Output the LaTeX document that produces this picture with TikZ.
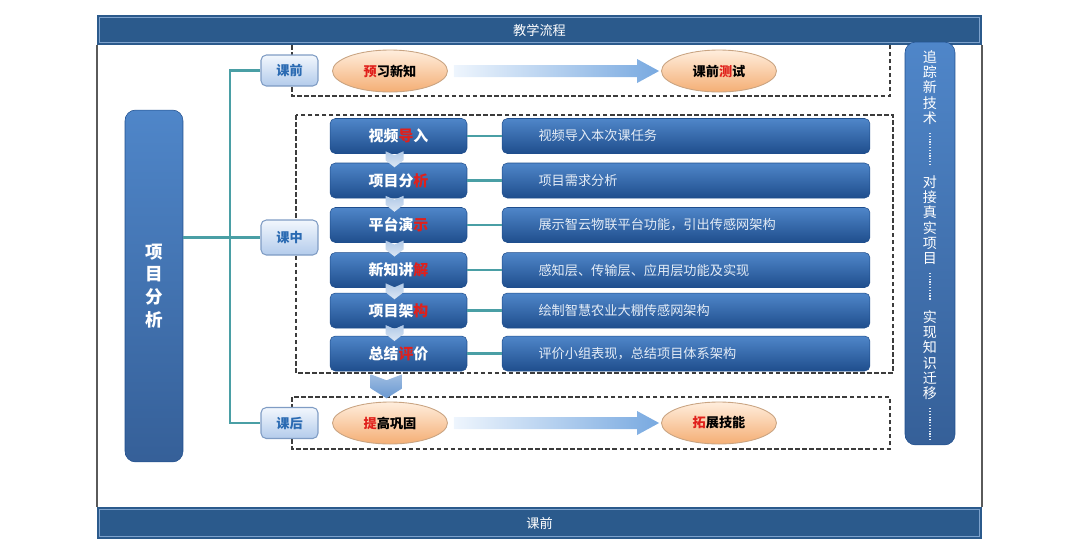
\documentclass[tikz,border=0pt]{standalone}
\usepackage{fontspec}
\setmainfont{Noto Sans CJK SC}
\usetikzlibrary{calc,shapes.geometric}

\definecolor{barblue}{HTML}{2B5A8C}
\definecolor{barline}{HTML}{7EA2CC}
\definecolor{boxtop}{HTML}{4F86C9}
\definecolor{boxbot}{HTML}{1F4E8D}
\definecolor{linkteal}{HTML}{4A9FA5}
\definecolor{tagtop}{HTML}{F2F7FD}
\definecolor{tagbot}{HTML}{B3CBEB}
\definecolor{tagborder}{HTML}{7F9CC4}
\definecolor{tagtext}{HTML}{2A6AB2}
\definecolor{ovaltop}{HTML}{FFEEDD}
\definecolor{ovalbot}{HTML}{F4AE74}
\definecolor{ovalborder}{HTML}{C9A482}
\definecolor{flowleft}{HTML}{EEF5FD}
\definecolor{flowright}{HTML}{78A9E0}
\definecolor{dashgray}{HTML}{3C3C3C}
\definecolor{framegray}{HTML}{5A5A5A}
\definecolor{keyred}{HTML}{E0201B}
\definecolor{desctext}{HTML}{E4ECF6}

\newcommand{\redch}[1]{\textcolor{keyred}{#1}}

\tikzset{
  bar/.style={rectangle, fill=barblue, text=white, minimum width=17.7cm, inner sep=0pt,
    font=\fontsize{7.5}{9}\selectfont},
  stepbox/.style={rectangle, rounded corners=3pt, top color=boxtop, bottom color=boxbot,
    draw=boxbot, line width=0.3pt, minimum width=2.74cm, minimum height=0.70cm,
    text=white, font=\bfseries\fontsize{8.5}{10}\selectfont},
  descbox/.style={rectangle, rounded corners=3pt, top color=boxtop, bottom color=boxbot,
    draw=boxbot, line width=0.3pt, minimum height=0.70cm, text width=5.9cm,
    inner xsep=0.73cm, align=left, text=desctext, font=\fontsize{7.5}{9}\selectfont},
  tagbox/.style={rectangle, rounded corners=3pt, top color=tagtop, bottom color=tagbot,
    draw=tagborder, line width=0.6pt, minimum width=1.14cm, minimum height=0.62cm,
    text=tagtext, font=\bfseries\fontsize{7.5}{9}\selectfont},
  oval/.style={ellipse, top color=ovaltop, bottom color=ovalbot, draw=ovalborder,
    line width=0.5pt, minimum width=2.30cm, minimum height=0.84cm, inner sep=0pt,
    font=\bfseries\fontsize{7.5}{9}\selectfont},
  tallbox/.style={rectangle, rounded corners=6pt, top color=boxtop, bottom color=boxbot!90,
    draw=boxbot, line width=0.3pt, text=white, align=center},
  goaltext/.style={inner sep=0pt, align=center, text=white,
    font=\fontsize{8}{8.7}\selectfont},
  link/.style={draw=linkteal, line width=1.4pt},
  zone/.style={draw=dashgray, dash pattern=on 2.6pt off 1.4pt, line width=0.8pt},
  frame/.style={draw=framegray, line width=1pt},
  flow/.style={left color=flowleft, right color=flowright},
  drop/.style={top color=boxtop!45, bottom color=boxtop!20},
  dotline/.style={draw=white!85!boxtop, dash pattern=on 0.7pt off 0.9pt, line width=0.7pt},
}

\begin{document}
\begin{tikzpicture}[x=0.02cm, y=-0.02cm]
  \useasboundingbox (0,0) rectangle (1080,539);

  % header and footer bars
  \node[bar, minimum height=0.6cm] (title) at (539.5,30) {教学流程};
  \node[bar, minimum height=0.64cm] (footer) at (539.5,523) {课前};
  \draw[barline, line width=0.5pt] ([shift={(3,3)}]title.north west) rectangle ([shift={(-3,-3)}]title.south east);
  \draw[barline, line width=0.5pt] ([shift={(3,3)}]footer.north west) rectangle ([shift={(-3,-3)}]footer.south east);
  \draw[frame] (title.south west) -- (footer.north west);
  \draw[frame] (title.south east) -- (footer.north east);

  % dashed zones
  \draw[zone] (292,45) -- (292,96) -- (890,96) -- (890,45);
  \draw[zone] (296,115) rectangle (893,373);
  \draw[zone] (292,397) rectangle (890,449);

  % left column
  \node[tallbox, minimum width=1.16cm, minimum height=7.04cm,
    font=\bfseries\fontsize{10}{13}\selectfont] (proj) at (154,286) {项\\目\\分\\析};
  \node[tagbox] (pre) at (289.5,70.5) {课前};
  \node[tagbox, minimum height=0.70cm] (mid) at (289.5,237.5) {课中};
  \node[tagbox] (post) at (289.5,423) {课后};

  \coordinate (trunk) at (230,0);
  \draw[link] (pre.west) -- (pre.west -| trunk) -- (post.west -| trunk) -- (post.west);
  \draw[link] (proj.east |- mid.west) -- (mid.west);

  % before and after class
  \node[oval] (preA) at (390,71) {\redch{预}习新知};
  \node[oval] (preB) at (719,71) {课前\redch{测}试};
  \node[oval] (postA) at (390,423) {\redch{提}高巩固};
  \node[oval] (postB) at (719,423) {\redch{拓}展技能};
  \shade[flow] ([shift={(6,-6)}]preA.east) -- ([shift={(-24,-6)}]preB.west)
    -- ([shift={(-24,-12)}]preB.west) -- ([shift={(-2,0)}]preB.west)
    -- ([shift={(-24,12)}]preB.west) -- ([shift={(-24,6)}]preB.west)
    -- ([shift={(6,6)}]preA.east) -- cycle;
  \shade[flow] ([shift={(6,-6)}]postA.east) -- ([shift={(-24,-6)}]postB.west)
    -- ([shift={(-24,-12)}]postB.west) -- ([shift={(-2,0)}]postB.west)
    -- ([shift={(-24,12)}]postB.west) -- ([shift={(-24,6)}]postB.west)
    -- ([shift={(6,6)}]postA.east) -- cycle;

  % in class steps
  \foreach \i/\y/\s/\d in {1/136/视频\redch{导}入/视频导入本次课任务,
      2/180.5/项目分\redch{析}/项目需求分析,
      3/225/平台演\redch{示}/展示智云物联平台功能，引出传感网架构,
      4/270/新知讲\redch{解}/感知层、传输层、应用层功能及实现,
      5/310.5/项目架\redch{构}/绘制智慧农业大棚传感网架构,
      6/353.5/总结\redch{评}价/评价小组表现，总结项目体系架构} {
    \node[stepbox] (s\i) at (398.5,\y) {\s};
    \node[descbox] (d\i) at (686,\y) {\d};
    \draw[link] (s\i.east) -- (d\i.west);
  }
  \foreach \i [evaluate=\i as \j using int(\i+1)] in {1,...,5}
    \shade[drop] ($(s\i.south)!0.5!(s\j.north)+(-4,0)$) ++(-9,-7) -- ++(9,4) -- ++(9,-4)
      -- ++(0,9) -- ++(-9,7) -- ++(-9,-7) -- cycle;
  \shade[top color=boxtop!55, bottom color=boxtop!85] ($(s6.south)+(-12,14)$) ++(-16,-11)
    -- ++(16,6) -- ++(16,-6) -- ++(0,14) -- ++(-16,10) -- ++(-16,-10) -- cycle;

  % right column
  \node[tallbox, minimum width=1.0cm, minimum height=8.06cm] (goal) at (930,243.5) {};
  \node[goaltext] (g1) at (930,87.5) {追\\踪\\新\\技\\术};
  \node[goaltext] (g2) at (930,220) {对\\接\\真\\实\\项\\目};
  \node[goaltext] (g3) at (930,355) {实\\现\\知\\识\\迁\\移};
  \draw[dotline] ([shift={(0,8)}]g1.south) -- ([shift={(0,-10)}]g2.north);
  \draw[dotline] ([shift={(0,8)}]g2.south) -- ([shift={(0,-10)}]g3.north);
  \draw[dotline] ([shift={(0,8)}]g3.south) -- ([shift={(0,-5)}]goal.south);
\end{tikzpicture}
\end{document}
